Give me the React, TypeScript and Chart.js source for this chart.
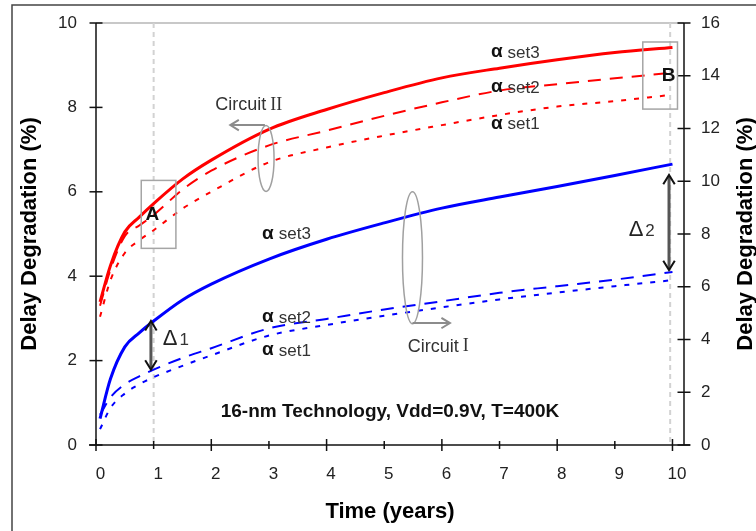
import React, { useEffect, useRef } from "react";
import { Chart, registerables } from "chart.js";

Chart.register(...registerables);

// ---- data ----
const timeYears = [0.07, 0.25, 0.5, 0.75, 1, 1.5, 2, 3, 4, 5, 6, 7, 8, 9, 10];
// Circuit II (left axis, red)
const circuit2Set3 = [3.39, 4.25, 5.05, 5.4, 5.72, 6.3, 6.75, 7.48, 7.95, 8.35, 8.7, 8.93, 9.13, 9.3, 9.42];
const circuit2Set2 = [3.3, 4.15, 4.95, 5.2, 5.45, 6.05, 6.5, 7.1, 7.45, 7.8, 8.12, 8.4, 8.55, 8.69, 8.82];
const circuit2Set1 = [3.04, 3.9, 4.55, 4.85, 5.09, 5.6, 6.0, 6.7, 7.05, 7.33, 7.58, 7.82, 8.02, 8.15, 8.3];
// Circuit I (right axis, blue)
const circuit1Set3 = [1.0, 2.5, 3.72, 4.25, 4.7, 5.5, 6.1, 7.05, 7.8, 8.42, 8.98, 9.4, 9.8, 10.22, 10.65];
const circuit1Set2 = [1.15, 1.8, 2.3, 2.6, 2.86, 3.3, 3.67, 4.42, 4.78, 5.14, 5.45, 5.77, 6.02, 6.27, 6.56];
const circuit1Set1 = [0.6, 1.4, 1.95, 2.3, 2.57, 3.0, 3.4, 4.15, 4.55, 4.9, 5.22, 5.52, 5.78, 6.02, 6.25];

const xTicks = [0, 1, 2, 3, 4, 5, 6, 7, 8, 9, 10];
const leftTicks = [0, 2, 4, 6, 8, 10];
const rightTicks = [0, 2, 4, 6, 8, 10, 12, 14, 16];

const FONT = '"Liberation Sans", Arial, Helvetica, sans-serif';
const SERIF = '"Liberation Serif", "DejaVu Serif", serif';

function line(ctx: CanvasRenderingContext2D, x1: number, y1: number, x2: number, y2: number) {
  ctx.beginPath();
  ctx.moveTo(x1, y1);
  ctx.lineTo(x2, y2);
  ctx.stroke();
}

function arrowHead(ctx: CanvasRenderingContext2D, x: number, y: number, angle: number, size: number) {
  ctx.beginPath();
  ctx.moveTo(x - size * Math.cos(angle - 0.55), y - size * Math.sin(angle - 0.55));
  ctx.lineTo(x, y);
  ctx.lineTo(x - size * Math.cos(angle + 0.55), y - size * Math.sin(angle + 0.55));
  ctx.stroke();
}

function alphaLabel(ctx: CanvasRenderingContext2D, x: number, y: number, txt: string) {
  ctx.textAlign = "left";
  ctx.textBaseline = "middle";
  ctx.font = `bold 19px ${FONT}`;
  ctx.fillStyle = "#111";
  ctx.fillText("α", x, y);
  const w = ctx.measureText("α").width;
  ctx.font = `17px ${FONT}`;
  ctx.fillStyle = "#333";
  ctx.fillText(txt, x + w + 5, y + 1);
}

const decorPlugin = {
  id: "decor",
  beforeDraw(chart: any) {
    const ctx: CanvasRenderingContext2D = chart.ctx;
    ctx.save();
    ctx.fillStyle = "#fff";
    ctx.fillRect(0, 0, chart.width, chart.height);
    ctx.strokeStyle = "#444";
    ctx.lineWidth = 1.5;
    ctx.beginPath();
    ctx.moveTo(12, chart.height);
    ctx.lineTo(12, 5);
    ctx.lineTo(chart.width, 5);
    ctx.stroke();
    ctx.restore();
  },
  beforeDatasetsDraw(chart: any) {
    const ctx: CanvasRenderingContext2D = chart.ctx;
    const ca = chart.chartArea;
    const X = (v: number) => chart.scales.x.getPixelForValue(v);
    ctx.save();
    ctx.strokeStyle = "#c8c8c8";
    ctx.lineWidth = 2;
    line(ctx, ca.left, ca.top, ca.right, ca.top);
    ctx.strokeStyle = "#d2d2d2";
    ctx.setLineDash([5, 4]);
    line(ctx, X(1), ca.top, X(1), ca.bottom);
    line(ctx, X(9.96), ca.top, X(9.96), ca.bottom);
    ctx.restore();
  },
  afterDatasetsDraw(chart: any) {
    const ctx: CanvasRenderingContext2D = chart.ctx;
    const ca = chart.chartArea;
    const X = (v: number) => chart.scales.x.getPixelForValue(v);
    const YL = (v: number) => chart.scales.yL.getPixelForValue(v);
    const YR = (v: number) => chart.scales.yR.getPixelForValue(v);
    ctx.save();

    // axes and tick marks
    ctx.strokeStyle = "#111";
    ctx.lineWidth = 1.5;
    line(ctx, ca.left, ca.top, ca.left, ca.bottom);
    line(ctx, ca.right, ca.top, ca.right, ca.bottom);
    line(ctx, ca.left - 7, ca.bottom, ca.right + 6, ca.bottom);
    leftTicks.forEach((v) => line(ctx, ca.left - 6.5, YL(v), ca.left + 6.5, YL(v)));
    rightTicks.forEach((v) => line(ctx, ca.right - 6.5, YR(v), ca.right + 6.5, YR(v)));
    xTicks.forEach((v) => {
      const h = v % 2 === 0 ? 6 : 4;
      line(ctx, X(v), ca.bottom - h, X(v), ca.bottom + h);
    });

    // boxes A and B
    ctx.strokeStyle = "#a5a5a5";
    ctx.lineWidth = 1.5;
    ctx.strokeRect(X(0.785), YL(6.27), X(1.386) - X(0.785), YL(4.66) - YL(6.27));
    ctx.strokeRect(X(9.485), YL(9.55), X(10.087) - X(9.485), YL(7.96) - YL(9.55));
    ctx.fillStyle = "#111";
    ctx.font = `bold 19px ${FONT}`;
    ctx.textAlign = "center";
    ctx.textBaseline = "middle";
    ctx.fillText("A", X(0.976), YL(5.45));
    ctx.fillText("B", X(9.935), YL(8.76));

    // ellipses
    ctx.strokeStyle = "#a0a0a0";
    ctx.lineWidth = 1.5;
    ctx.beginPath();
    ctx.ellipse(X(2.95), YL(6.79), 8, 33, 0, 0, Math.PI * 2);
    ctx.stroke();
    ctx.beginPath();
    ctx.ellipse(X(5.49), YL(4.44), 10, 66, 0, 0, Math.PI * 2);
    ctx.stroke();

    // circuit arrows
    ctx.strokeStyle = "#8c8c8c";
    ctx.lineWidth = 2;
    line(ctx, X(2.93), YL(7.58), X(2.33), YL(7.58));
    arrowHead(ctx, X(2.33), YL(7.58), Math.PI, 10);
    line(ctx, X(5.49), YL(2.89), X(6.14), YL(2.89));
    arrowHead(ctx, X(6.14), YL(2.89), 0, 10);

    // circuit labels
    ctx.textAlign = "left";
    ctx.textBaseline = "middle";
    ctx.fillStyle = "#333";
    ctx.font = `18px ${FONT}`;
    let cx = X(2.07);
    ctx.fillText("Circuit", cx, YL(8.05));
    cx += ctx.measureText("Circuit").width + 4;
    ctx.font = `18px ${SERIF}`;
    ctx.fillText("II", cx, YL(8.05));
    ctx.font = `18px ${FONT}`;
    cx = X(5.41);
    ctx.fillText("Circuit", cx, YL(2.33));
    cx += ctx.measureText("Circuit").width + 4;
    ctx.font = `18px ${SERIF}`;
    ctx.fillText("I", cx, YL(2.33));

    // delta arrows
    const dArrow = (x: number, y1: number, y2: number) => {
      ctx.strokeStyle = "#555";
      ctx.lineWidth = 3;
      line(ctx, x, y1 + 2, x, y2 - 2);
      ctx.strokeStyle = "#111";
      ctx.lineWidth = 2;
      arrowHead(ctx, x, y1, -Math.PI / 2, 11);
      arrowHead(ctx, x, y2, Math.PI / 2, 11);
    };
    dArrow(X(0.953), YR(4.7), YR(2.86));
    dArrow(X(9.94), YR(10.24), YR(6.63));

    const deltaText = (x: number, y: number, sub: string) => {
      ctx.textAlign = "left";
      ctx.textBaseline = "alphabetic";
      ctx.fillStyle = "#222";
      ctx.font = `22px ${FONT}`;
      ctx.fillText("Δ", x, y);
      const w = ctx.measureText("Δ").width;
      ctx.font = `17px ${FONT}`;
      ctx.fillStyle = "#333";
      ctx.fillText(sub, x + w + 2, y);
    };
    deltaText(X(1.16), YL(2.37), "1");
    deltaText(X(9.24), YL(4.95), "2");

    // alpha set labels
    alphaLabel(ctx, X(6.85), YL(9.31), "set3");
    alphaLabel(ctx, X(6.85), YL(8.48), "set2");
    alphaLabel(ctx, X(6.85), YL(7.62), "set1");
    alphaLabel(ctx, X(2.88), YL(5.01), "set3");
    alphaLabel(ctx, X(2.88), YL(3.03), "set2");
    alphaLabel(ctx, X(2.88), YL(2.25), "set1");

    // technology note
    ctx.textAlign = "center";
    ctx.textBaseline = "middle";
    ctx.fillStyle = "#111";
    ctx.font = `bold 19px ${FONT}`;
    ctx.fillText("16-nm Technology, Vdd=0.9V, T=400K", X(5.1), YL(0.79));

    // right axis title (reads bottom-to-top)
    ctx.save();
    ctx.translate(746, (ca.top + ca.bottom) / 2);
    ctx.rotate(-Math.PI / 2);
    ctx.font = `bold 22px ${FONT}`;
    ctx.fillStyle = "#000";
    ctx.textAlign = "center";
    ctx.textBaseline = "middle";
    ctx.fillText("Delay Degradation (%)", 0, 0);
    ctx.restore();

    ctx.restore();
  },
};

export default function App() {
  const ref = useRef<HTMLCanvasElement>(null);
  useEffect(() => {
    const canvas = ref.current;
    if (!canvas) return;
    const mk = (ys: number[]) => timeYears.map((t, i) => ({ x: t, y: ys[i] }));
    const base = { pointRadius: 0, borderCapStyle: "butt" as const, cubicInterpolationMode: "monotone" as const, fill: false };
    const fitY = (w: number) => (s: any) => {
      s.width = w;
      s.paddingTop = 0;
      s.paddingBottom = 0;
    };
    const chart = new Chart(canvas, {
      type: "line",
      data: {
        datasets: [
          { ...base, label: "Circuit II set3", data: mk(circuit2Set3), yAxisID: "yL", borderColor: "#ff0000", borderWidth: 3 },
          { ...base, label: "Circuit II set2", data: mk(circuit2Set2), yAxisID: "yL", borderColor: "#ff0000", borderWidth: 2, borderDash: [13, 9] },
          { ...base, label: "Circuit II set1", data: mk(circuit2Set1), yAxisID: "yL", borderColor: "#ff0000", borderWidth: 2, borderDash: [5, 8] },
          { ...base, label: "Circuit I set3", data: mk(circuit1Set3), yAxisID: "yR", borderColor: "#0000ff", borderWidth: 3 },
          { ...base, label: "Circuit I set2", data: mk(circuit1Set2), yAxisID: "yR", borderColor: "#0000ff", borderWidth: 2, borderDash: [13, 9] },
          { ...base, label: "Circuit I set1", data: mk(circuit1Set1), yAxisID: "yR", borderColor: "#0000ff", borderWidth: 2, borderDash: [5, 8] },
        ],
      },
      options: {
        responsive: false,
        animation: false,
        devicePixelRatio: 1,
        layout: { autoPadding: false, padding: { top: 23, left: 0, right: 0, bottom: 0 } },
        plugins: { legend: { display: false }, tooltip: { enabled: false } },
        scales: {
          x: {
            type: "linear",
            min: 0,
            max: 10.2,
            afterBuildTicks: (s: any) => {
              s.ticks = xTicks.map((v) => ({ value: v }));
            },
            afterFit: (s: any) => {
              s.height = 86;
              s.paddingLeft = 0;
              s.paddingRight = 0;
            },
            grid: { display: false, drawTicks: false },
            border: { display: false },
            ticks: {
              autoSkip: false,
              maxRotation: 0,
              padding: 19,
              labelOffset: 4.5,
              color: "#222",
              font: { family: FONT, size: 17 },
            },
            title: {
              display: true,
              text: "Time (years)",
              color: "#000",
              font: { family: FONT, size: 22, weight: "bold" },
              padding: { top: 0, bottom: 6 },
            },
          },
          yL: {
            type: "linear",
            position: "left",
            min: 0,
            max: 10,
            afterBuildTicks: (s: any) => {
              s.ticks = leftTicks.map((v) => ({ value: v }));
            },
            afterFit: fitY(96),
            grid: { display: false, drawTicks: false },
            border: { display: false },
            ticks: { padding: 19, color: "#222", font: { family: FONT, size: 17 } },
            title: {
              display: true,
              text: "Delay Degradation (%)",
              color: "#000",
              font: { family: FONT, size: 22, weight: "bold" },
              padding: { top: 17, bottom: 0 },
            },
          },
          yR: {
            type: "linear",
            position: "right",
            min: 0,
            max: 16,
            afterBuildTicks: (s: any) => {
              s.ticks = rightTicks.map((v) => ({ value: v }));
            },
            afterFit: fitY(72),
            grid: { display: false, drawTicks: false },
            border: { display: false },
            ticks: { padding: 17, color: "#222", font: { family: FONT, size: 17 } },
          },
        },
      },
      plugins: [decorPlugin],
    });
    return () => chart.destroy();
  }, []);
  return (
    <div style={{ position: "fixed", left: 0, top: 0, width: 756, height: 531, background: "#fff" }}>
      <canvas ref={ref} width={756} height={531} style={{ display: "block", width: 756, height: 531 }} />
    </div>
  );
}
